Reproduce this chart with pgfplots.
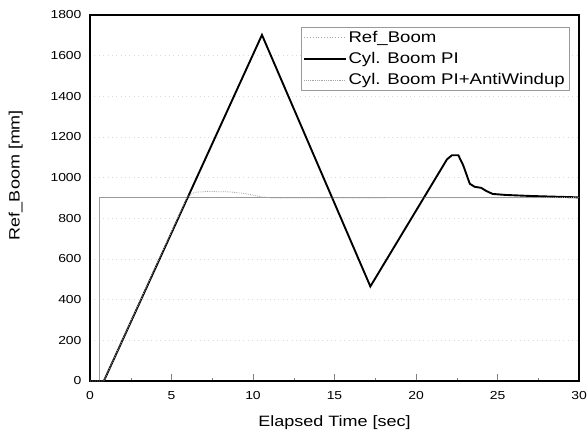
\documentclass[border=0pt]{standalone}
\usepackage{fontspec}
\setmainfont{Liberation Sans}[FakeStretch=1.2]
\usepackage{pgfplots}
\pgfplotsset{compat=1.18}
\begin{document}
\begin{tikzpicture}
\begin{axis}[
  scale only axis,
  width=489bp, height=366bp,
  xmin=0, xmax=30, ymin=0, ymax=1800,
  xtick={0,5,...,30}, ytick={0,200,...,1800},
  minor xtick={2.5,7.5,...,27.5},
  tick pos=left, tick align=inside,
  major tick length=7bp, minor tick length=3.5bp,
  ytick style={draw=none},
  axis line style={line width=1.1bp},
  /pgf/number format/assume math mode=true,
  /pgf/number format/1000 sep={},
  tick label style={font=\fontsize{11.6bp}{13bp}\selectfont},
  xticklabel style={yshift=-7bp},
  yticklabel style={xshift=-5bp},
  label style={font=\fontsize{15bp}{17bp}\selectfont},
  xlabel={Elapsed Time [sec]},
  ylabel={Ref\_Boom [mm]},
  xlabel style={yshift=-9bp},
  ylabel style={xshift=23bp, yshift=21bp},
  ymajorgrids, grid style={gray!30, loosely dotted, line width=0.6bp},
  legend style={at={(1,1)}, anchor=north east, xshift=-10bp, yshift=-12bp,
    draw=gray!80, line width=0.5bp, font=\fontsize{15.5bp}{18bp}\selectfont,
    inner sep=2bp, row sep=4.5bp,
    /tikz/every even column/.append style={column sep=0pt}},
  legend image code/.code={\draw[#1] (0cm,0cm) -- (1.45cm,0cm);},
  legend cell align=left,
]
\addplot[gray!80, line width=0.8bp, forget plot] coordinates {(0,0)(0.55,0)(0.55,905)(30,905)};
\addlegendimage{gray!70, dotted, line width=0.8bp}
\addlegendentry{Ref\_Boom}
\addplot[black, line width=1.9bp] coordinates {
(0,0)(0.85,0)(10.55,1702)(17.2,465)(21.9,1090)(22.2,1110)(22.6,1110)(22.9,1060)
(23.3,970)(23.6,955)(24.0,950)(24.3,935)(24.7,920)(25.5,915)(27,910)(30,903)};
\addlegendentry{Cyl. Boom PI}
\addplot[gray!70, densely dotted, line width=0.8bp] coordinates {
(0,0)(0.85,0)(5.97,905)(6.4,928)(7.2,932)(8.6,930)(9.5,922)(10.5,906)(11.2,900)(30,902)};
\addlegendentry{Cyl. Boom PI+AntiWindup}
\end{axis}
\pgfresetboundingbox
\path (current axis.south west) ++(-90bp,-56bp) coordinate (bl);
\path (current axis.north east) ++(9bp,15bp) coordinate (tr);
\path[use as bounding box] (bl) rectangle (tr);
\end{tikzpicture}
\end{document}
